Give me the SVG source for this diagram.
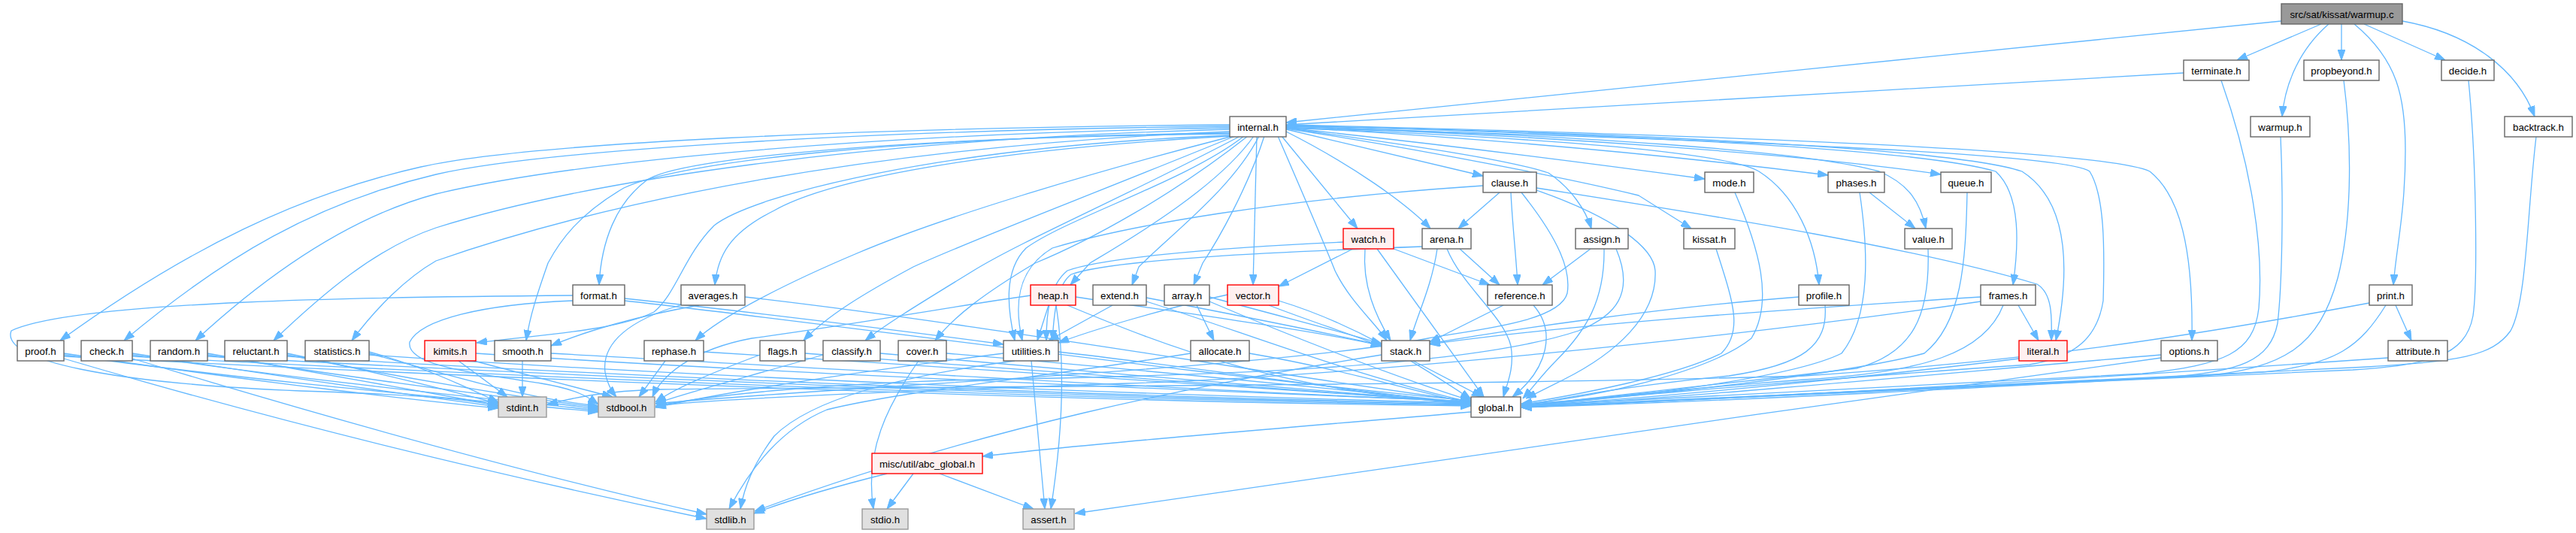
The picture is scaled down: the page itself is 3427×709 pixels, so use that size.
<svg xmlns="http://www.w3.org/2000/svg" width="3427" height="709" viewBox="0 0 3427 709">
<style>
.e{fill:none;stroke:#63b8ff;stroke-width:1.3;marker-end:url(#ah)}
.n rect{fill:#ffffff;stroke:#666666;stroke-width:1.4}
.r rect{fill:#fff0f0;stroke:#ff0000;stroke-width:1.4}
.g rect{fill:#e0e0e0;stroke:#999999;stroke-width:1.4}
.root rect{fill:#999999;stroke:#666666;stroke-width:1.4}
text{font-family:"Liberation Sans",Arial,Helvetica,sans-serif;font-size:13.3px;fill:#000000;text-anchor:middle}
</style>
<defs>
<marker id="ah" viewBox="0 0 14 10" refX="14" refY="5" markerWidth="14" markerHeight="10" markerUnits="userSpaceOnUse" orient="auto">
<path d="M0,0 L14,5 L0,10 z" fill="#63b8ff" stroke="#63b8ff" stroke-width="1"/>
</marker>
</defs>
<rect width="3427" height="709" fill="#ffffff"/>
<g id="connectors">
<!-- warmup.c -->
<path class="e" d="M3035,28 C2700,60 2000,135 1711,163"/>
<path class="e" d="M3088,32 L2976,80"/>
<path class="e" d="M3098,32 C3060,65 3040,110 3036,155"/>
<path class="e" d="M3115,32 L3115,80"/>
<path class="e" d="M3132,32 C3190,80 3200,130 3200,200 C3200,280 3188,330 3184,379"/>
<path class="e" d="M3145,32 L3253,80"/>
<path class="e" d="M3196,28 C3290,45 3350,95 3372,155"/>
<!-- terminate -->
<path class="e" d="M2905,97 C2500,120 2000,150 1711,166"/>
<path class="e" d="M2955,107 C2995,220 3012,330 3005,410 C2998,470 2960,485 2850,497 C2500,515 2200,533 2024,540"/>
<!-- warmup.h, propbeyond, decide, backtrack -->
<path class="e" d="M3034,182 C3038,270 3036,380 3030,430 C3020,480 2980,495 2880,502 C2500,520 2200,535 2024,541"/>
<path class="e" d="M3118,107 C3130,200 3128,300 3110,370 C3085,460 3040,490 2930,500 C2500,520 2200,536 2024,542"/>
<path class="e" d="M3284,107 C3295,220 3296,380 3290,420 C3280,475 3230,485 3130,492 C2700,512 2300,533 2024,542"/>
<path class="e" d="M3374,182 C3362,280 3362,400 3340,440 C3315,475 3270,480 3150,488 C2700,510 2300,532 2024,542"/>
<!-- print, attribute, options, literal -->
<path class="e" d="M3187,406 L3208,453"/>
<path class="e" d="M3174,406 C3140,460 3110,485 3010,495 C2650,515 2300,534 2024,542"/>
<path class="e" d="M3152,403 C2900,450 2700,480 2400,500 C1900,515 1000,515 880,518 C800,520 760,530 728,538"/>
<path class="e" d="M3177,476 C2900,495 2500,522 2024,542"/>
<path class="e" d="M2875,472 C2600,495 2300,525 2024,541"/>
<path class="e" d="M2875,476 C2400,540 1800,630 1430,683"/>
<path class="e" d="M2686,477 C2500,500 2200,530 2024,540"/>
<!-- frames, profile, value, queue, phases, mode, kissat -->
<path class="e" d="M2685,406 L2712,453"/>
<path class="e" d="M2635,395 C2400,410 2100,430 1902,458"/>
<path class="e" d="M2635,401 C2300,450 1800,500 1500,510 C1200,520 950,530 872,540"/>
<path class="e" d="M2665,406 C2640,470 2560,495 2400,505 C2200,520 2100,532 2024,540"/>
<path class="e" d="M2393,395 C2200,410 2000,440 1902,457"/>
<path class="e" d="M2428,406 C2432,460 2400,485 2300,500 C2150,515 2080,530 2024,540"/>
<path class="e" d="M2565,331 C2568,420 2545,470 2470,490 C2300,510 2100,532 2024,540"/>
<path class="e" d="M2617,256 C2615,350 2610,430 2560,470 C2450,500 2150,530 2024,540"/>
<path class="e" d="M2487,256 L2548,304"/>
<path class="e" d="M2474,256 C2485,330 2490,420 2450,470 C2380,505 2150,530 2024,540"/>
<path class="e" d="M2308,256 C2340,330 2360,400 2330,450 C2280,490 2150,525 2024,538"/>
<path class="e" d="M2283,331 C2305,400 2320,440 2290,470 C2230,500 2100,525 2024,537"/>
<!-- assign -->
<path class="e" d="M2116,331 L2052,379"/>
<path class="e" d="M2134,331 C2135,400 2110,440 2070,480 C2050,500 2040,515 2026,530"/>
<path class="e" d="M2150,331 C2175,390 2150,420 2100,440 C1950,490 1600,500 1300,505 C1100,510 950,525 872,540"/>
<!-- clause -->
<path class="e" d="M1995,256 L1940,304"/>
<path class="e" d="M2010,256 C2012,300 2017,340 2019,379"/>
<path class="e" d="M2044,250 C2300,290 2550,330 2710,378 C2730,390 2730,420 2729,453"/>
<path class="e" d="M2044,253 C2150,290 2200,330 2202,360 C2205,420 2150,470 2080,505 C2060,515 2040,525 2030,530"/>
<path class="e" d="M1973,247 C1700,265 1500,300 1400,330 C1350,360 1350,410 1360,453"/>
<path class="e" d="M2024,256 C2075,320 2090,360 2085,390 C2075,430 1950,440 1900,450 C1700,490 1100,515 872,537"/>
<!-- arena -->
<path class="e" d="M1942,331 L1995,379"/>
<path class="e" d="M1912,331 C1905,380 1885,420 1876,453"/>
<path class="e" d="M1925,331 C1945,380 2000,420 2010,460 C2015,490 2005,510 2000,528"/>
<path class="e" d="M1892,328 C1700,335 1480,345 1425,365 C1405,380 1402,420 1400,453"/>
<!-- watch -->
<path class="e" d="M1800,331 L1701,381"/>
<path class="e" d="M1816,331 C1812,380 1830,420 1850,453"/>
<path class="e" d="M1832,331 L1974,528"/>
<path class="e" d="M1854,331 L1982,379"/>
<path class="e" d="M1787,322 C1600,330 1460,345 1420,360 C1395,380 1392,420 1392,453"/>
<!-- reference -->
<path class="e" d="M2000,406 L1902,455"/>
<path class="e" d="M2040,406 C2070,440 2060,490 2012,528"/>
<!-- internal -->
<path class="e" d="M1636,166 C1150,170 700,190 560,222 C400,258 250,330 80,453"/>
<path class="e" d="M1636,168 C1150,173 720,200 580,232 C420,270 300,340 165,453"/>
<path class="e" d="M1636,170 C1150,178 760,215 580,258 C460,290 350,370 260,453"/>
<path class="e" d="M1636,172 C1150,185 780,240 580,303 C500,330 430,390 364,453"/>
<path class="e" d="M1636,175 C1150,195 800,270 580,347 C540,370 500,410 468,453"/>
<path class="e" d="M1636,177 C1200,182 900,215 830,250 C770,285 745,320 729,350 C715,390 705,420 700,453"/>
<path class="e" d="M1636,178 C1200,183 900,210 860,240 C820,270 800,320 797,379"/>
<path class="e" d="M1636,180 C1250,195 1000,260 950,300 C910,340 900,390 870,415 C820,440 720,445 634,456"/>
<path class="e" d="M1636,181 C1300,200 1100,240 1030,280 C970,310 955,340 951,379"/>
<path class="e" d="M1640,181 C1450,230 1250,290 1140,337 C1050,375 960,420 925,453"/>
<path class="e" d="M1643,181 C1450,260 1290,320 1215,355 C1150,390 1100,420 1069,453"/>
<path class="e" d="M1650,181 C1500,260 1360,320 1295,360 C1230,400 1180,430 1151,453"/>
<path class="e" d="M1660,181 C1560,260 1450,320 1377,350 C1310,390 1270,420 1244,453"/>
<path class="e" d="M1655,181 C1580,240 1420,290 1365,330 C1335,360 1340,410 1350,453"/>
<path class="e" d="M1668,181 C1620,250 1500,320 1450,350 L1424,379"/>
<path class="e" d="M1675,181 C1640,250 1560,310 1515,355 L1506,379"/>
<path class="e" d="M1682,181 C1660,250 1620,320 1600,350 L1588,379"/>
<path class="e" d="M1672,181 L1667,379"/>
<path class="e" d="M1700,181 C1730,250 1760,320 1776,360 C1795,400 1830,430 1845,453"/>
<path class="e" d="M1705,181 L1806,304"/>
<path class="e" d="M1711,175 C1800,220 1870,270 1903,304"/>
<path class="e" d="M1711,172 L1973,234"/>
<path class="e" d="M1711,170 C1850,190 2000,210 2060,230 C2090,250 2110,280 2117,304"/>
<path class="e" d="M1711,171 C1900,200 2100,240 2180,260 L2250,304"/>
<path class="e" d="M1711,170 C1900,190 2100,215 2268,238"/>
<path class="e" d="M1711,169 C2000,185 2250,210 2432,233"/>
<path class="e" d="M1711,168 C2050,180 2400,205 2582,232"/>
<path class="e" d="M1711,168 C2100,180 2400,200 2500,228 C2540,245 2555,270 2562,304"/>
<path class="e" d="M1711,170 C2100,185 2300,205 2340,228 C2390,260 2415,320 2420,379"/>
<path class="e" d="M1711,167 C2200,180 2560,200 2655,228 C2690,260 2685,330 2678,379"/>
<path class="e" d="M1711,167 C2200,178 2600,198 2690,228 C2740,260 2760,330 2735,453"/>
<path class="e" d="M1711,166 C2300,180 2800,200 2860,228 C2900,260 2918,330 2916,453"/>
<path class="e" d="M1711,170 C2300,185 2750,205 2780,228 C2800,260 2800,330 2798,400 C2790,450 2760,475 2700,485 C2400,505 2200,525 2024,538"/>
<!-- vector, array, extend, heap -->
<path class="e" d="M1633,392 C1550,410 1450,440 1408,456"/>
<path class="e" d="M1688,406 C1750,430 1800,445 1838,461"/>
<path class="e" d="M1701,400 C1800,430 1880,480 1957,531"/>
<path class="e" d="M1592,406 L1615,453"/>
<path class="e" d="M1609,395 C1700,420 1780,440 1838,457"/>
<path class="e" d="M1609,401 C1700,440 1850,500 1957,533"/>
<path class="e" d="M1480,406 L1395,453"/>
<path class="e" d="M1525,396 C1650,420 1750,440 1838,459"/>
<path class="e" d="M1525,401 C1650,440 1800,500 1957,535"/>
<path class="e" d="M1395,406 L1380,453"/>
<path class="e" d="M1405,406 C1420,500 1410,600 1398,677"/>
<path class="e" d="M1431,395 C1600,420 1750,440 1838,460"/>
<path class="e" d="M1420,406 C1550,460 1700,520 1957,537"/>
<path class="e" d="M1371,393 C1250,410 1150,430 1000,450 C920,465 880,500 868,528"/>
<!-- utilities, allocate, stack, cover -->
<path class="e" d="M1372,480 L1390,677"/>
<path class="e" d="M1335,470 C1100,500 950,525 872,542"/>
<path class="e" d="M1350,480 C1200,500 1080,530 1030,580 C1000,620 990,650 985,677"/>
<path class="e" d="M1408,468 C1600,490 1800,520 1957,538"/>
<path class="e" d="M1662,470 C1780,490 1880,520 1957,537"/>
<path class="e" d="M1584,470 C1400,500 1200,520 1100,545 C1040,570 1000,620 970,677"/>
<path class="e" d="M1880,480 L1972,528"/>
<path class="e" d="M1838,472 C1600,510 1300,570 1004,680"/>
<path class="e" d="M1222,480 C1180,540 1150,600 1162,677"/>
<path class="e" d="M1259,470 C1500,490 1800,520 1957,536"/>
<!-- classify, flags, rephase, averages, smooth, kimits -->
<path class="e" d="M1095,472 C1000,500 920,520 872,537"/>
<path class="e" d="M1171,470 C1400,490 1750,520 1957,536"/>
<path class="e" d="M1011,472 C950,495 900,515 872,535"/>
<path class="e" d="M1071,470 C1400,495 1750,520 1957,536"/>
<path class="e" d="M885,480 L850,528"/>
<path class="e" d="M936,468 C1300,490 1700,520 1957,535"/>
<path class="e" d="M930,406 C850,420 780,440 733,460"/>
<path class="e" d="M905,406 C840,425 800,455 805,495 C808,512 815,522 820,528"/>
<path class="e" d="M991,395 C1300,430 1700,500 1957,534"/>
<path class="e" d="M695,480 L695,528"/>
<path class="e" d="M733,470 C1100,490 1600,520 1957,534"/>
<path class="e" d="M610,480 L675,528"/>
<path class="e" d="M630,480 L815,528"/>
<path class="e" d="M633,470 C1000,495 1600,520 1957,534"/>
<!-- format -->
<path class="e" d="M762,393 C500,395 100,400 15,440 C0,480 150,510 400,520 C550,525 620,530 663,540"/>
<path class="e" d="M762,400 C640,405 560,425 545,455 C540,485 620,495 720,510 C770,518 785,530 796,538"/>
<path class="e" d="M831,397 C1000,415 1200,440 1335,458"/>
<path class="e" d="M831,400 C1100,430 1600,500 1957,533"/>
<!-- statistics, reluctant, random, check, proof -->
<path class="e" d="M491,468 C570,490 620,515 663,535"/>
<path class="e" d="M491,470 C600,500 700,530 796,540"/>
<path class="e" d="M491,472 C900,500 1500,525 1957,536"/>
<path class="e" d="M382,470 C500,495 600,520 663,537"/>
<path class="e" d="M382,472 C550,505 700,530 796,542"/>
<path class="e" d="M382,474 C900,505 1500,528 1957,537"/>
<path class="e" d="M276,470 C450,500 580,525 663,539"/>
<path class="e" d="M276,472 C500,508 700,532 796,544"/>
<path class="e" d="M276,474 C900,508 1500,530 1957,538"/>
<path class="e" d="M176,470 C400,505 580,530 663,541"/>
<path class="e" d="M176,472 C450,512 700,535 796,546"/>
<path class="e" d="M176,474 C900,512 1500,532 1957,539"/>
<path class="e" d="M176,477 C450,560 700,630 940,684"/>
<path class="e" d="M85,470 C350,510 580,535 663,543"/>
<path class="e" d="M85,472 C400,515 700,538 796,548"/>
<path class="e" d="M85,474 C900,515 1500,535 1957,540"/>
<path class="e" d="M85,477 C400,570 700,640 940,690"/>
<!-- global, abc -->
<path class="e" d="M1957,548 C1700,570 1450,590 1307,607"/>
<path class="e" d="M1215,630 L1180,677"/>
<path class="e" d="M1250,630 L1375,677"/>
<path class="e" d="M1180,630 C1100,650 1050,665 1003,683"/>
</g>
<g id="node-warmup-c" class="root"><rect x="3035" y="5" width="161" height="27"/><text x="3115.5" y="23.5">src/sat/kissat/warmup.c</text></g>
<g id="node-terminate" class="n"><rect x="2905" y="80" width="87" height="27"/><text x="2948.5" y="98.5">terminate.h</text></g>
<g id="node-propbeyond" class="n"><rect x="3065" y="80" width="100" height="27"/><text x="3115" y="98.5">propbeyond.h</text></g>
<g id="node-decide" class="n"><rect x="3248" y="80" width="70" height="27"/><text x="3283" y="98.5">decide.h</text></g>
<g id="node-internal" class="n"><rect x="1636" y="155" width="75" height="27"/><text x="1673.5" y="173.5">internal.h</text></g>
<g id="node-warmup-h" class="n"><rect x="2994" y="155" width="79" height="27"/><text x="3033.5" y="173.5">warmup.h</text></g>
<g id="node-backtrack" class="n"><rect x="3332" y="155" width="90" height="27"/><text x="3377" y="173.5">backtrack.h</text></g>
<g id="node-clause" class="n"><rect x="1973" y="229" width="71" height="27"/><text x="2008.5" y="247.5">clause.h</text></g>
<g id="node-mode" class="n"><rect x="2268" y="229" width="65" height="27"/><text x="2300.5" y="247.5">mode.h</text></g>
<g id="node-phases" class="n"><rect x="2432" y="229" width="75" height="27"/><text x="2469.5" y="247.5">phases.h</text></g>
<g id="node-queue" class="n"><rect x="2582" y="229" width="67" height="27"/><text x="2615.5" y="247.5">queue.h</text></g>
<g id="node-watch" class="r"><rect x="1787" y="304" width="67" height="27"/><text x="1820.5" y="322.5">watch.h</text></g>
<g id="node-arena" class="n"><rect x="1892" y="304" width="65" height="27"/><text x="1924.5" y="322.5">arena.h</text></g>
<g id="node-assign" class="n"><rect x="2096" y="304" width="70" height="27"/><text x="2131" y="322.5">assign.h</text></g>
<g id="node-kissat" class="n"><rect x="2240" y="304" width="68" height="27"/><text x="2274" y="322.5">kissat.h</text></g>
<g id="node-value" class="n"><rect x="2534" y="304" width="63" height="27"/><text x="2565.5" y="322.5">value.h</text></g>
<g id="node-format" class="n"><rect x="762" y="379" width="69" height="27"/><text x="796.5" y="397.5">format.h</text></g>
<g id="node-averages" class="n"><rect x="906" y="379" width="85" height="27"/><text x="948.5" y="397.5">averages.h</text></g>
<g id="node-heap" class="r"><rect x="1371" y="379" width="60" height="27"/><text x="1401" y="397.5">heap.h</text></g>
<g id="node-extend" class="n"><rect x="1454" y="379" width="71" height="27"/><text x="1489.5" y="397.5">extend.h</text></g>
<g id="node-array" class="n"><rect x="1549" y="379" width="60" height="27"/><text x="1579" y="397.5">array.h</text></g>
<g id="node-vector" class="r"><rect x="1633" y="379" width="68" height="27"/><text x="1667" y="397.5">vector.h</text></g>
<g id="node-reference" class="n"><rect x="1979" y="379" width="86" height="27"/><text x="2022" y="397.5">reference.h</text></g>
<g id="node-profile" class="n"><rect x="2393" y="379" width="67" height="27"/><text x="2426.5" y="397.5">profile.h</text></g>
<g id="node-frames" class="n"><rect x="2635" y="379" width="73" height="27"/><text x="2671.5" y="397.5">frames.h</text></g>
<g id="node-print" class="n"><rect x="3152" y="379" width="57" height="27"/><text x="3180.5" y="397.5">print.h</text></g>
<g id="node-proof" class="n"><rect x="23" y="453" width="62" height="27"/><text x="54" y="471.5">proof.h</text></g>
<g id="node-check" class="n"><rect x="108" y="453" width="68" height="27"/><text x="142" y="471.5">check.h</text></g>
<g id="node-random" class="n"><rect x="200" y="453" width="76" height="27"/><text x="238" y="471.5">random.h</text></g>
<g id="node-reluctant" class="n"><rect x="299" y="453" width="83" height="27"/><text x="340.5" y="471.5">reluctant.h</text></g>
<g id="node-statistics" class="n"><rect x="406" y="453" width="85" height="27"/><text x="448.5" y="471.5">statistics.h</text></g>
<g id="node-kimits" class="r"><rect x="565" y="453" width="68" height="27"/><text x="599" y="471.5">kimits.h</text></g>
<g id="node-smooth" class="n"><rect x="658" y="453" width="75" height="27"/><text x="695.5" y="471.5">smooth.h</text></g>
<g id="node-rephase" class="n"><rect x="857" y="453" width="79" height="27"/><text x="896.5" y="471.5">rephase.h</text></g>
<g id="node-flags" class="n"><rect x="1011" y="453" width="60" height="27"/><text x="1041" y="471.5">flags.h</text></g>
<g id="node-classify" class="n"><rect x="1095" y="453" width="76" height="27"/><text x="1133" y="471.5">classify.h</text></g>
<g id="node-cover" class="n"><rect x="1195" y="453" width="64" height="27"/><text x="1227" y="471.5">cover.h</text></g>
<g id="node-utilities" class="n"><rect x="1335" y="453" width="73" height="27"/><text x="1371.5" y="471.5">utilities.h</text></g>
<g id="node-allocate" class="n"><rect x="1584" y="453" width="78" height="27"/><text x="1623" y="471.5">allocate.h</text></g>
<g id="node-stack" class="n"><rect x="1838" y="453" width="64" height="27"/><text x="1870" y="471.5">stack.h</text></g>
<g id="node-literal" class="r"><rect x="2686" y="453" width="64" height="27"/><text x="2718" y="471.5">literal.h</text></g>
<g id="node-options" class="n"><rect x="2875" y="453" width="75" height="27"/><text x="2912.5" y="471.5">options.h</text></g>
<g id="node-attribute" class="n"><rect x="3177" y="453" width="79" height="27"/><text x="3216.5" y="471.5">attribute.h</text></g>
<g id="node-stdint" class="g"><rect x="663" y="528" width="64" height="27"/><text x="695" y="546.5">stdint.h</text></g>
<g id="node-stdbool" class="g"><rect x="796" y="528" width="75" height="27"/><text x="833.5" y="546.5">stdbool.h</text></g>
<g id="node-global" class="n"><rect x="1957" y="528" width="66" height="27"/><text x="1990" y="546.5">global.h</text></g>
<g id="node-abc-global" class="r"><rect x="1160" y="603" width="147" height="27"/><text x="1233.5" y="621.5">misc/util/abc_global.h</text></g>
<g id="node-stdlib" class="g"><rect x="940" y="677" width="63" height="27"/><text x="971.5" y="695.5">stdlib.h</text></g>
<g id="node-stdio" class="g"><rect x="1147" y="677" width="61" height="27"/><text x="1177.5" y="695.5">stdio.h</text></g>
<g id="node-assert" class="g"><rect x="1361" y="677" width="68" height="27"/><text x="1395" y="695.5">assert.h</text></g>
</svg>
